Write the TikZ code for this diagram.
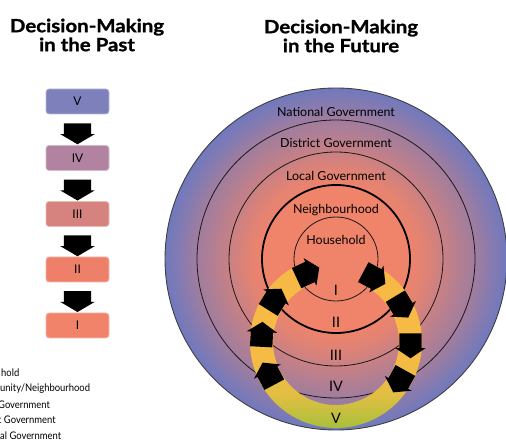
\documentclass[tikz,border=0pt]{standalone}
\usepackage{fontspec}
\setmainfont{Lato}
\newfontfamily\titlefont{Lato}[FakeStretch=1.12, BoldFeatures={FakeBold=1.2}]
\newfontfamily\legfont{Lato}[FakeStretch=0.9]
\usetikzlibrary{shapes.arrows,calc}
\definecolor{sal}{HTML}{F0846A}
\definecolor{blu}{HTML}{7079BE}
\colorlet{cA}{sal!88!blu}
\colorlet{cB}{sal!70!blu}
\colorlet{cC}{sal!53!blu}
\colorlet{cD}{sal!37!blu}
\colorlet{cE}{sal!17!blu}
\definecolor{rgreen}{HTML}{8FC03C}
\definecolor{ryg}{HTML}{BEC03E}
\definecolor{ryl}{HTML}{E2BE42}
\definecolor{ryel}{HTML}{F6BB45}
\definecolor{rtop}{HTML}{F7B945}
\definecolor{bxV}{HTML}{7E80BC}
\definecolor{bxIV}{HTML}{B183A1}
\definecolor{bxIII}{HTML}{D6827E}
\definecolor{bxII}{HTML}{EE806A}
\definecolor{bxI}{HTML}{F0836A}
\pgfdeclareradialshading{bigrad}{\pgfpoint{0bp}{0bp}}{color(0bp)=(sal); color(10.3bp)=(sal); color(13bp)=(cA); color(15.6bp)=(cB); color(18bp)=(cC); color(20.5bp)=(cD); color(22.8bp)=(cE); color(25bp)=(blu); color(50bp)=(blu)}
\pgfdeclareverticalshading{ringsh}{100bp}{color(0bp)=(rgreen); color(25bp)=(rgreen); color(32bp)=(ryg); color(38bp)=(ryl); color(49bp)=(ryel); color(75bp)=(rtop); color(100bp)=(rtop)}
\begin{document}
\begin{tikzpicture}[x=1bp,y=1bp,
  lbl/.style={font=\fontsize{12.5}{14}\selectfont, text=black, inner sep=0pt},
  rom/.style={font=\fontsize{14.5}{16}\selectfont, inner sep=0pt},
  ringarrow/.style={single arrow, fill=black, draw=none, inner xsep=0pt, inner ysep=11bp, minimum height=25bp, single arrow head extend=4bp, single arrow tip angle=112},
  downarrow/.style={single arrow, fill=black, draw=none, inner xsep=0pt, inner ysep=13.5bp, minimum height=21bp, single arrow head extend=3.5bp, single arrow tip angle=119, rotate=-90},
  pastbox/.style={rectangle, rounded corners=3bp, minimum width=63bp, minimum height=25bp, fill=#1, draw=#1!55!white, line width=0.8bp, font=\fontsize{12}{13}\selectfont},
  titlet/.style={font=\titlefont\fontsize{18.3}{19}\selectfont\bfseries, align=center, inner sep=0pt},
  legendt/.style={anchor=west, font=\legfont\fontsize{10.5}{12}\selectfont, inner sep=0pt},
  thinring/.style={line width=0.8bp, black!90},
]
\useasboundingbox (0,0) rectangle (506,440);
% titles
\node[titlet] (t1) at (87,405) {Decision-Making\\in the Past};
\node[titlet] (t2) at (341,404) {Decision-Making\\in the Future};
% left panel
\node[pastbox=bxV] (b5) at (77.5,338.5) {V};
\node[pastbox=bxIV] (b4) at (77.5,282) {IV};
\node[pastbox=bxIII] (b3) at (77.5,226) {III};
\node[pastbox=bxII] (b2) at (77.5,170.5) {II};
\node[pastbox=bxI] (b1) at (77.5,114.5) {I};
\node[downarrow] (d1) at ($(b5)!0.5!(b4)$) {};
\node[downarrow] (d2) at ($(b4)!0.5!(b3)$) {};
\node[downarrow] (d3) at ($(b3)!0.5!(b2)$) {};
\node[downarrow] (d4) at ($(b2)!0.5!(b1)$) {};
% legend (cut at the left edge, as in the reference)
\node[legendt] (l1) at (1,67) {hold};
\node[legendt] (l2) at (0,51) {unity/Neighbourhood};
\node[legendt] (l3) at (-2,35) {Government};
\node[legendt] (l4) at (-2,20) {t Government};
\node[legendt] (l5) at (0,4) {al Government};
% circles
\coordinate (cc) at (336,181);
\coordinate (rc) at (336,98);
\shade[shading=bigrad] (cc) circle[radius=171];
\draw[line width=0.9bp, black!75] (cc) circle[radius=171];
\draw[thinring] (cc) circle[radius=139];
\draw[thinring] (cc) circle[radius=107];
\draw[line width=1.8bp] (cc) circle[radius=74];
\draw[thinring] (cc) circle[radius=42];
% ring
\shade[shading=ringsh] ($(rc)+(116:86)$) arc[start angle=116, end angle=422, radius=86]
  -- ($(rc)+(62:63)$) arc[start angle=422, end angle=116, radius=63] -- cycle;
% labels
\node[lbl] (n5) at (336,328) {National Government};
\node[lbl] (n4) at (336,297) {District Government};
\node[lbl] (n3) at (336,264) {Local Government};
\node[lbl] (n2) at (336,230) {Neighbourhood};
\node[lbl] (n1) at (336,200) {Household};
\node[rom] (r1) at (336,150) {I};
\node[rom] (r2) at (336,118) {II};
\node[rom] (r3) at (336,85) {III};
\node[rom] (r4) at (336,54) {IV};
\node[rom] (r5) at (336,22) {V};
% ring arrows (clockwise)
\node[ringarrow, rotate=25] (a1) at ($(rc)+(115:74.5)$) {};
\node[ringarrow, rotate=58] (a2) at ($(rc)+(148:74.5)$) {};
\node[ringarrow, rotate=87] (a3) at ($(rc)+(177:74.5)$) {};
\node[ringarrow, rotate=118] (a4) at ($(rc)+(208:74.5)$) {};
\node[ringarrow, rotate=-28] (a5) at ($(rc)+(62:74.5)$) {};
\node[ringarrow, rotate=-59] (a6) at ($(rc)+(31:74.5)$) {};
\node[ringarrow, rotate=-90] (a7) at ($(rc)+(0:74.5)$) {};
\node[ringarrow, rotate=-119] (a8) at ($(rc)+(-29:74.5)$) {};
\end{tikzpicture}
\end{document}
